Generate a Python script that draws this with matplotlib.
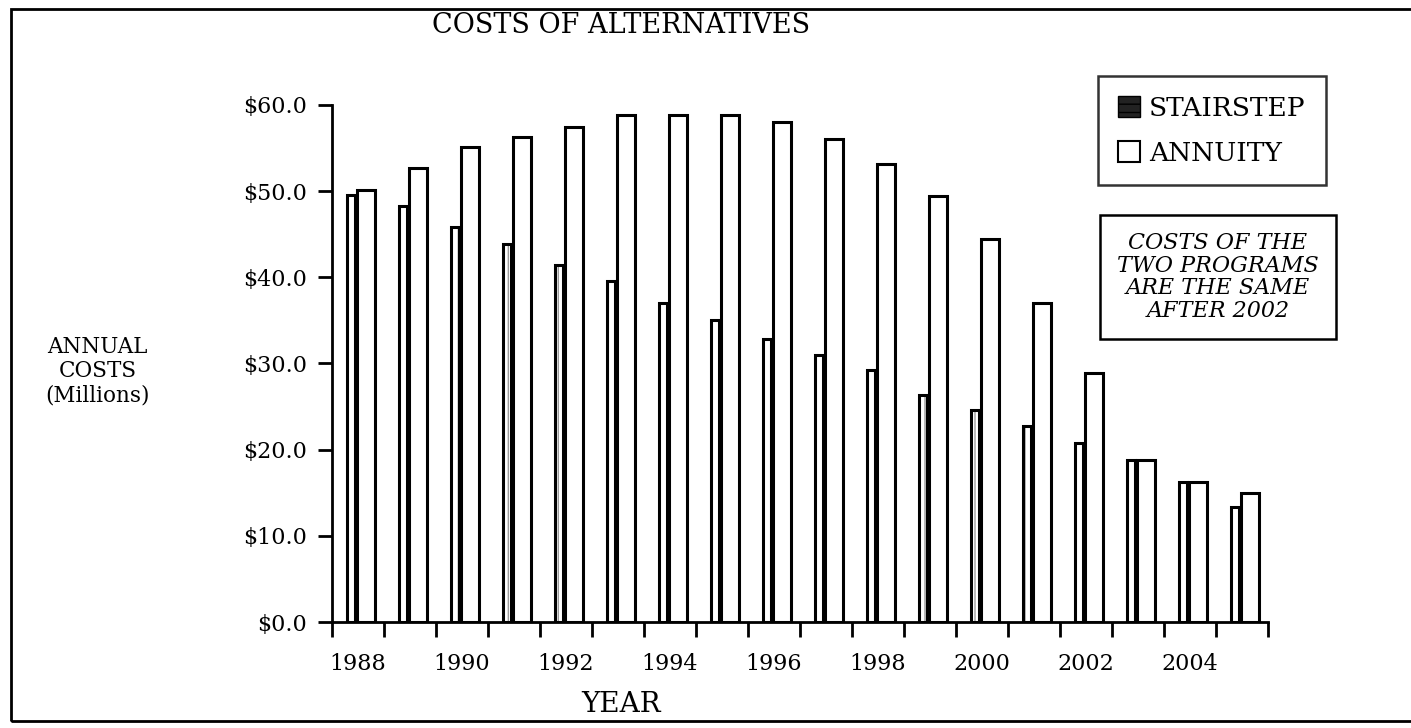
import matplotlib.pyplot as plt
from matplotlib.patches import Patch, Rectangle

years = list(range(1988, 2006))
stairstep = [49.5, 48.3, 45.8, 43.9, 41.4, 39.6, 37.0, 35.1, 32.8, 31.0,
             29.2, 26.3, 24.6, 22.7, 20.8, 18.8, 16.2, 13.3]
annuity = [50.1, 52.7, 55.1, 56.3, 57.4, 58.8, 58.8, 58.8, 58.0, 56.1,
           53.2, 49.4, 44.5, 37.0, 28.9, 18.8, 16.2, 15.0]
year_labels = [str(y) for y in years[::2]]
yticks = [0, 10, 20, 30, 40, 50, 60]

plt.rcParams['font.family'] = 'DejaVu Serif'

fig = plt.figure(figsize=(14.11, 7.28), dpi=100)
ax = fig.add_axes([0.2353, 0.1456, 0.6634, 0.7102])

idx = list(range(len(years)))
s_left = [i + 0.29 for i in idx]
a_left = [i + 0.48 for i in idx]

# stairstep: dotted grey fill, black outline
ax.bar(s_left, stairstep, width=0.15, align='edge', facecolor='white',
       edgecolor='#9a9a9a', hatch='|', linewidth=0, zorder=2)
ax.bar(s_left, stairstep, width=0.15, align='edge', fill=False,
       edgecolor='black', linewidth=2.2, zorder=3)
ax.bar(a_left, annuity, width=0.34, align='edge', facecolor='white',
       edgecolor='black', linewidth=2.2, zorder=3)

ax.set_xlim(0, len(years))
ax.set_ylim(0, 60)
ax.set_yticks(yticks)
ax.set_yticklabels([f'${v:.1f}' for v in yticks], fontsize=16)
ax.set_xticks(range(len(years) + 1))
ax.set_xticklabels([])
ax.set_xticks([i + 0.5 for i in idx[::2]], minor=True)
ax.set_xticklabels(year_labels, minor=True, fontsize=16)
ax.tick_params(axis='x', which='major', length=11, width=2, direction='out')
ax.tick_params(axis='x', which='minor', length=0, pad=22)
ax.tick_params(axis='y', length=10, width=2, direction='out', pad=8)
for side in ['top', 'right']:
    ax.spines[side].set_visible(False)
for side in ['left', 'bottom']:
    ax.spines[side].set_linewidth(2)

fig.text(0.44, 0.955, 'COSTS OF ALTERNATIVES', ha='center', va='baseline', fontsize=19.5)
fig.text(0.44, 0.032, 'YEAR', ha='center', va='center', fontsize=20)
fig.text(0.069, 0.49, 'ANNUAL\nCOSTS\n(Millions)', ha='center', va='center',
         fontsize=15.5, linespacing=1.15)

handles = [Patch(facecolor='#222222', edgecolor='black', hatch='--'),
           Patch(facecolor='white', edgecolor='black', linewidth=1.5)]
leg = fig.legend(handles, ['STAIRSTEP', 'ANNUITY'], loc='upper left',
                 bbox_to_anchor=(0.778, 0.8956), fontsize=19, frameon=True,
                 fancybox=False, edgecolor='black', handlelength=0.85,
                 handleheight=0.85, handletextpad=0.35, borderpad=0.75,
                 labelspacing=0.75, borderaxespad=0)
leg.get_frame().set_linewidth(1.8)

fig.text(0.8632, 0.6195, 'COSTS OF THE\nTWO PROGRAMS\nARE THE SAME\nAFTER 2002',
         ha='center', va='center', fontsize=16, style='italic', linespacing=1.05,
         bbox=dict(boxstyle='square,pad=0.75', facecolor='white',
                   edgecolor='black', linewidth=1.8))

# outer frame around the whole figure
fig.add_artist(Rectangle((0.008, 0.01), 1.1, 0.978, transform=fig.transFigure,
                         fill=False, edgecolor='black', linewidth=2))

fig.savefig('out.png', dpi=100)
